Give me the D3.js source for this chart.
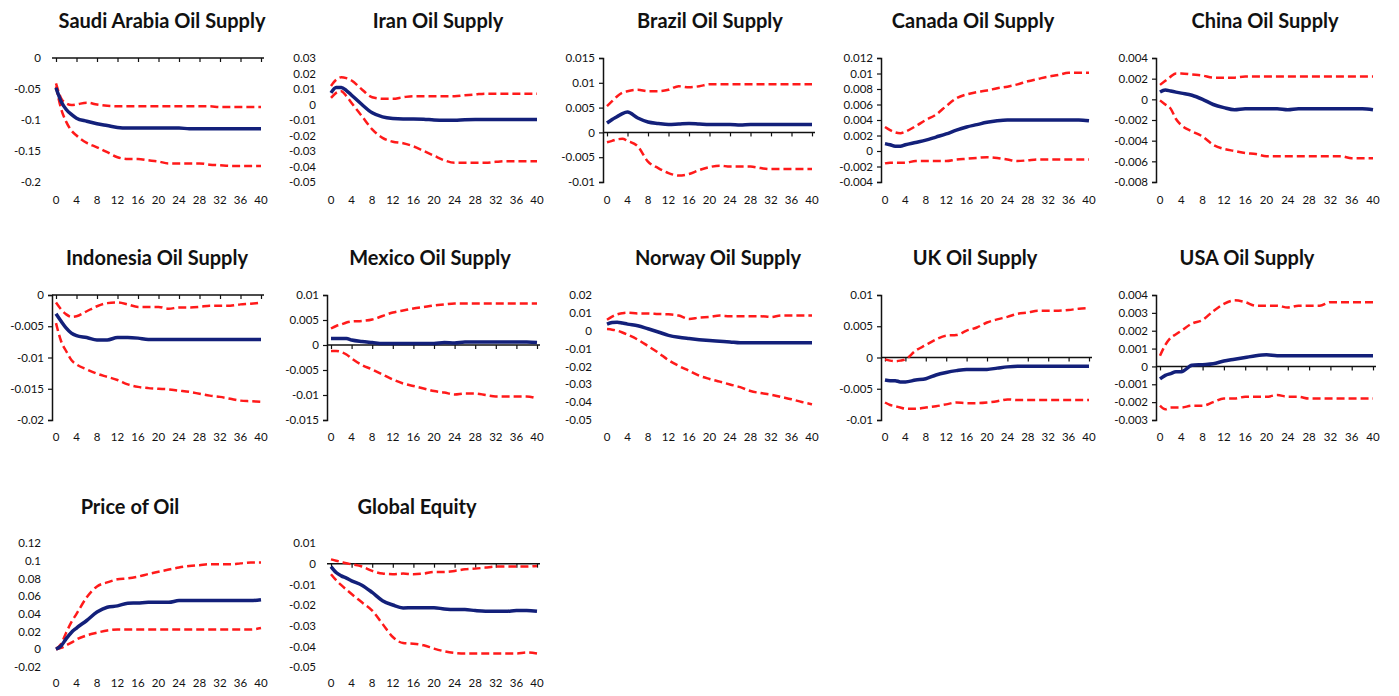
<!DOCTYPE html>
<html>
<head>
<meta charset="utf-8">
<script src="https://cdn.jsdelivr.net/npm/d3@7"></script>
<style>
body { margin: 0; background: #fff; }
svg { font-family: Lato, "Open Sans", sans-serif; }
</style>
</head>
<body>
<script>
"use strict";

let horizons = [0,1,2,3,4,6,8,10,12,14,16,18,20,22,24,26,28,30,32,34,36,38,40];

let saudiMid = [-0.048,-0.07,-0.083,-0.091,-0.097,-0.102,-0.106,-0.109,-0.112,-0.113,-0.113,-0.113,-0.113,-0.113,-0.113,-0.114,-0.114,-0.114,-0.114,-0.114,-0.114,-0.114,-0.114];
let saudiUp = [-0.041,-0.065,-0.073,-0.076,-0.075,-0.072,-0.075,-0.077,-0.078,-0.078,-0.078,-0.078,-0.078,-0.078,-0.078,-0.078,-0.078,-0.078,-0.079,-0.079,-0.079,-0.079,-0.079];
let saudiLo = [-0.046,-0.082,-0.103,-0.117,-0.125,-0.137,-0.144,-0.152,-0.16,-0.163,-0.163,-0.165,-0.167,-0.17,-0.17,-0.17,-0.17,-0.172,-0.173,-0.174,-0.174,-0.174,-0.174];

let iranMid = [0.0075,0.011,0.011,0.009,0.006,0,-0.0054,-0.008,-0.009,-0.0093,-0.0093,-0.0095,-0.01,-0.0102,-0.0102,-0.0098,-0.0097,-0.0097,-0.0097,-0.0097,-0.0097,-0.0097,-0.0097];
let iranUp = [0.012,0.016,0.0176,0.017,0.0155,0.0097,0.0047,0.0037,0.0037,0.0047,0.0054,0.0054,0.0054,0.0054,0.0054,0.006,0.0065,0.007,0.007,0.007,0.007,0.007,0.007];
let iranLo = [0.0043,0.0075,0.0086,0.0054,0.001,-0.0075,-0.016,-0.0215,-0.024,-0.025,-0.027,-0.03,-0.033,-0.036,-0.0376,-0.0376,-0.0376,-0.0376,-0.037,-0.0366,-0.0366,-0.0366,-0.0366];

let brazilMid = [0.0019,0.0026,0.0032,0.0038,0.0041,0.0029,0.0021,0.0018,0.0016,0.0017,0.0018,0.0017,0.0016,0.0016,0.0016,0.0015,0.0016,0.0016,0.0016,0.0016,0.0016,0.0016,0.0016];
let brazilUp = [0.0053,0.0063,0.0073,0.008,0.0083,0.0086,0.0083,0.0083,0.0086,0.0093,0.0091,0.0093,0.0097,0.0097,0.0097,0.0097,0.0097,0.0097,0.0097,0.0097,0.0097,0.0097,0.0097];
let brazilLo = [-0.002,-0.0017,-0.0014,-0.0013,-0.0017,-0.0028,-0.0059,-0.0072,-0.0082,-0.0087,-0.0084,-0.0076,-0.007,-0.0067,-0.0069,-0.0069,-0.0069,-0.0072,-0.0074,-0.0074,-0.0074,-0.0074,-0.0074];

let canadaMid = [0.00095,0.0008,0.0006,0.0006,0.0008,0.0011,0.0014,0.0018,0.0022,0.0027,0.0031,0.0034,0.0037,0.0039,0.004,0.004,0.004,0.004,0.004,0.004,0.004,0.004,0.0039];
let canadaUp = [0.0031,0.0027,0.0024,0.0023,0.0025,0.0032,0.004,0.0047,0.0058,0.0068,0.0073,0.0076,0.0078,0.0081,0.0083,0.0086,0.009,0.0093,0.0096,0.0098,0.0101,0.0101,0.0101];
let canadaLo = [-0.0016,-0.0015,-0.0015,-0.0015,-0.0015,-0.0013,-0.0013,-0.0013,-0.0013,-0.0011,-0.001,-0.0009,-0.0008,-0.0009,-0.0011,-0.0013,-0.0012,-0.0011,-0.0011,-0.0011,-0.0011,-0.0011,-0.0011];

let chinaMid = [0.0007,0.0009,0.0008,0.0007,0.0006,0.0004,0,-0.0005,-0.0008,-0.001,-0.0009,-0.0009,-0.0009,-0.0009,-0.001,-0.0009,-0.0009,-0.0009,-0.0009,-0.0009,-0.0009,-0.0009,-0.001];
let chinaUp = [0.0014,0.0018,0.0022,0.0025,0.0025,0.0024,0.0023,0.0021,0.0021,0.0021,0.0022,0.0022,0.0022,0.0022,0.0022,0.0022,0.0022,0.0022,0.0022,0.0022,0.0022,0.0022,0.0022];
let chinaLo = [-0.0001,-0.0005,-0.0009,-0.0019,-0.0025,-0.0031,-0.0036,-0.0044,-0.0048,-0.005,-0.0052,-0.0053,-0.0055,-0.0055,-0.0055,-0.0055,-0.0055,-0.0055,-0.0055,-0.0055,-0.0057,-0.0057,-0.0057];

let indonesiaMid = [-0.003,-0.0042,-0.0053,-0.0061,-0.0065,-0.0068,-0.0072,-0.0072,-0.0068,-0.0068,-0.0069,-0.0071,-0.0071,-0.0071,-0.0071,-0.0071,-0.0071,-0.0071,-0.0071,-0.0071,-0.0071,-0.0071,-0.0071];
let indonesiaUp = [-0.0012,-0.0023,-0.0031,-0.0035,-0.0034,-0.0026,-0.0018,-0.0013,-0.0012,-0.0015,-0.0019,-0.0019,-0.0019,-0.0022,-0.002,-0.002,-0.0019,-0.0017,-0.0017,-0.0017,-0.0015,-0.0014,-0.0012];
let indonesiaLo = [-0.0045,-0.0074,-0.009,-0.0104,-0.0111,-0.0119,-0.0126,-0.0131,-0.0136,-0.0143,-0.0147,-0.0149,-0.015,-0.0151,-0.0153,-0.0155,-0.0158,-0.0161,-0.0163,-0.0166,-0.0169,-0.017,-0.0171];

let mexicoMid = [0.0013,0.0013,0.0013,0.0013,0.001,0.0007,0.0005,0.0003,0.0003,0.0003,0.0003,0.0003,0.0003,0.0005,0.0004,0.0006,0.0006,0.0006,0.0006,0.0006,0.0006,0.0006,0.0005];
let mexicoUp = [0.0033,0.0038,0.0041,0.0045,0.0047,0.0048,0.0051,0.0058,0.0065,0.0069,0.0073,0.0076,0.0079,0.0081,0.0083,0.0083,0.0083,0.0083,0.0083,0.0083,0.0083,0.0083,0.0083];
let mexicoLo = [-0.0012,-0.0012,-0.0014,-0.0019,-0.0027,-0.004,-0.0049,-0.0059,-0.0069,-0.0077,-0.0082,-0.0087,-0.0092,-0.0095,-0.0099,-0.0097,-0.0097,-0.01,-0.0103,-0.0103,-0.0103,-0.0103,-0.0107];

let norwayMid = [0.0037,0.0046,0.0048,0.0043,0.0037,0.0028,0.0011,-0.0007,-0.0026,-0.0037,-0.0044,-0.005,-0.0055,-0.0059,-0.0063,-0.0068,-0.0068,-0.0068,-0.0068,-0.0068,-0.0068,-0.0068,-0.0068];
let norwayUp = [0.0061,0.0079,0.0092,0.0098,0.0101,0.0097,0.0097,0.0094,0.0092,0.0085,0.0066,0.0074,0.0077,0.0085,0.0081,0.0081,0.0081,0.0081,0.0077,0.0085,0.0085,0.0085,0.0085];
let norwayLo = [0.0009,0.0006,0,-0.001,-0.0022,-0.005,-0.0086,-0.0123,-0.0165,-0.0197,-0.0224,-0.0252,-0.027,-0.0285,-0.0301,-0.0316,-0.0338,-0.0349,-0.0358,-0.0371,-0.0384,-0.0399,-0.0412];

let ukMid = [-0.0036,-0.0037,-0.0037,-0.0039,-0.0039,-0.0036,-0.0034,-0.0028,-0.0024,-0.0021,-0.0019,-0.0019,-0.0019,-0.0017,-0.0015,-0.0014,-0.0014,-0.0014,-0.0014,-0.0014,-0.0014,-0.0014,-0.0014];
let ukUp = [-0.0003,-0.0005,-0.0006,-0.0005,-0.0003,0.0011,0.002,0.0029,0.0035,0.0036,0.0043,0.0048,0.0056,0.0061,0.0065,0.007,0.0072,0.0075,0.0075,0.0075,0.0076,0.0078,0.0079];
let ukLo = [-0.0072,-0.0076,-0.0078,-0.008,-0.0082,-0.0082,-0.008,-0.0078,-0.0075,-0.0072,-0.0073,-0.0073,-0.0072,-0.007,-0.0067,-0.0068,-0.0068,-0.0068,-0.0068,-0.0068,-0.0068,-0.0068,-0.0068];

let usaMid = [-0.0007,-0.0005,-0.0004,-0.0003,-0.0003,0.00006,0.0001,0.00015,0.0003,0.0004,0.0005,0.0006,0.00065,0.0006,0.0006,0.0006,0.0006,0.0006,0.0006,0.0006,0.0006,0.0006,0.0006];
let usaUp = [0.0006,0.0012,0.0016,0.0018,0.002,0.0024,0.0026,0.0031,0.0035,0.0037,0.0036,0.0034,0.0034,0.0034,0.0033,0.0034,0.0034,0.0034,0.0036,0.0036,0.0036,0.0036,0.0036];
let usaLo = [-0.0022,-0.0024,-0.0023,-0.0023,-0.0023,-0.0022,-0.0022,-0.002,-0.0018,-0.0018,-0.0017,-0.0017,-0.0017,-0.0016,-0.0017,-0.0017,-0.0018,-0.0018,-0.0018,-0.0018,-0.0018,-0.0018,-0.0018];

let oilMid = [0,0.004,0.012,0.019,0.024,0.0325,0.042,0.0475,0.049,0.052,0.0523,0.053,0.053,0.053,0.055,0.055,0.055,0.055,0.055,0.055,0.055,0.055,0.056];
let oilUp = [0.0007,0.006,0.019,0.0307,0.04,0.0587,0.071,0.0755,0.079,0.08,0.082,0.085,0.0875,0.09,0.0923,0.094,0.095,0.096,0.096,0.096,0.097,0.098,0.098];
let oilLo = [0,0.0015,0.0045,0.0075,0.011,0.0157,0.0187,0.0213,0.0224,0.0224,0.0224,0.0224,0.0224,0.0224,0.0224,0.0224,0.0224,0.0224,0.0224,0.0224,0.0224,0.0224,0.024];

let equityMid = [-0.0014,-0.0043,-0.0059,-0.007,-0.0083,-0.0104,-0.0139,-0.0179,-0.02,-0.0214,-0.0213,-0.0213,-0.0213,-0.0219,-0.0222,-0.0222,-0.0227,-0.023,-0.023,-0.023,-0.0227,-0.0227,-0.023];
let equityUp = [0.0021,0.0014,0.0008,0.0002,-0.0003,-0.0014,-0.0035,-0.0048,-0.0051,-0.0048,-0.0051,-0.0048,-0.004,-0.004,-0.0035,-0.0027,-0.0024,-0.0019,-0.0014,-0.0014,-0.0014,-0.0014,-0.0011];
let equityLo = [-0.0051,-0.008,-0.0104,-0.0126,-0.0147,-0.0187,-0.0227,-0.0291,-0.0355,-0.0384,-0.0387,-0.0395,-0.0411,-0.0424,-0.0432,-0.0435,-0.0435,-0.0435,-0.0435,-0.0435,-0.0435,-0.043,-0.0435];

// y-axis tick labels of every panel
let saudiTicks = [0,-0.05,-0.1,-0.15,-0.2];
let iranTicks = [0.03,0.02,0.01,0,-0.01,-0.02,-0.03,-0.04,-0.05];
let brazilTicks = [0.015,0.01,0.005,0,-0.005,-0.01];
let canadaTicks = [0.012,0.01,0.008,0.006,0.004,0.002,0,-0.002,-0.004];
let chinaTicks = [0.004,0.002,0,-0.002,-0.004,-0.006,-0.008];
let indonesiaTicks = [0,-0.005,-0.01,-0.015,-0.02];
let mexicoTicks = [0.01,0.005,0,-0.005,-0.01,-0.015];
let norwayTicks = [0.02,0.01,0,-0.01,-0.02,-0.03,-0.04,-0.05];
let ukTicks = [0.01,0.005,0,-0.005,-0.01];
let usaTicks = [0.004,0.003,0.002,0.001,0,-0.001,-0.002,-0.003];
let oilTicks = [0.12,0.1,0.08,0.06,0.04,0.02,0,-0.02];
let equityTicks = [0.01,0,-0.01,-0.02,-0.03,-0.04,-0.05];

let xTicks = [0,4,8,12,16,20,24,28,32,36,40];

let titles = ['Saudi Arabia Oil Supply','Iran Oil Supply','Brazil Oil Supply','Canada Oil Supply','China Oil Supply',
    'Indonesia Oil Supply','Mexico Oil Supply','Norway Oil Supply','UK Oil Supply','USA Oil Supply',
    'Price of Oil','Global Equity'];

let panels = [
    {mid: saudiMid, up: saudiUp, lo: saudiLo, ticks: saudiTicks},
    {mid: iranMid, up: iranUp, lo: iranLo, ticks: iranTicks},
    {mid: brazilMid, up: brazilUp, lo: brazilLo, ticks: brazilTicks},
    {mid: canadaMid, up: canadaUp, lo: canadaLo, ticks: canadaTicks},
    {mid: chinaMid, up: chinaUp, lo: chinaLo, ticks: chinaTicks},
    {mid: indonesiaMid, up: indonesiaUp, lo: indonesiaLo, ticks: indonesiaTicks},
    {mid: mexicoMid, up: mexicoUp, lo: mexicoLo, ticks: mexicoTicks},
    {mid: norwayMid, up: norwayUp, lo: norwayLo, ticks: norwayTicks},
    {mid: ukMid, up: ukUp, lo: ukLo, ticks: ukTicks},
    {mid: usaMid, up: usaUp, lo: usaLo, ticks: usaTicks},
    {mid: oilMid, up: oilUp, lo: oilLo, ticks: oilTicks},
    {mid: equityMid, up: equityUp, lo: equityLo, ticks: equityTicks}
];
panels.forEach(function(p, i) { p.title = titles[i]; });

// layout of the grid (pixel positions, kept apart from the data)
let colX = [56, 331, 607, 885, 1160];
let colW = [205, 206, 205, 204, 213];
let rowTop = [58, 295, 543];
let rowBot = [182, 420, 667];
let rowTitle = [28, 265, 514];
let rowXLabel = [204, 441, 687];
let titleX = [162, 438, 710, 973, 1265, 157, 430, 718, 975, 1247, 130, 417];
// which axis lines are visible in each panel of the source picture
let showY = [false,false,true,true,true, true,true,false,true,true, false,false];
let showX = [true,false,true,false,false, true,true,false,true,true, false,true];

(function() {

let svg = d3.select('body')
    .append('svg')
    .attr('width', 1399)
    .attr('height', 696);

let fmt = function(v) { return String(+v.toFixed(4)); };

panels.forEach(function(p, i) {
    let row = Math.floor(i / 5);
    let col = i % 5;
    let x0 = colX[col];

    let x = d3.scaleLinear().domain([0, 40]).range([x0, x0 + colW[col]]);
    let y = d3.scaleLinear()
        .domain([d3.min(p.ticks), d3.max(p.ticks)])
        .range([rowBot[row], rowTop[row]]);

    let g = svg.append('g').attr('class', 'panel');

    g.append('text')
        .attr('x', titleX[i])
        .attr('y', rowTitle[row])
        .attr('text-anchor', 'middle')
        .attr('font-size', 20)
        .attr('font-weight', 700)
        .attr('fill', '#111')
        .text(p.title);

    let axisX = showY[i] ? x0 - 4 : x0 - 11;

    // y axis
    let yAxis = g.append('g')
        .attr('transform', 'translate(' + axisX + ',0)')
        .call(d3.axisLeft(y).tickValues(p.ticks).tickFormat(fmt).tickSize(showY[i] ? 4 : 0).tickPadding(4));
    yAxis.select('.domain').attr('stroke', showY[i] ? '#111' : 'none').attr('stroke-width', 1.5);
    yAxis.selectAll('.tick line').attr('stroke', '#111').attr('stroke-width', 1.2);
    yAxis.selectAll('.tick text')
        .attr('font-size', 11.5)
        .attr('fill', '#111')
        .attr('font-family', 'Lato, sans-serif');

    // x axis line at zero with tick marks
    if (showX[i]) {
        let xAxis = g.append('g')
            .attr('transform', 'translate(0,' + y(0) + ')')
            .call(d3.axisBottom(x).tickValues(xTicks).tickFormat('').tickSizeInner(4).tickSizeOuter(0));
        xAxis.select('.domain').attr('d', 'M' + (x0 - 4) + ',0H' + (x0 + colW[col] + 3))
            .attr('stroke', '#111').attr('stroke-width', 1.5);
        xAxis.selectAll('.tick line').attr('stroke', '#111').attr('stroke-width', 1.2);
    }

    // x labels under the plot
    g.selectAll('.xlab')
        .data(xTicks)
        .enter()
        .append('text')
        .attr('class', 'xlab')
        .attr('x', function(d) { return x(d); })
        .attr('y', rowXLabel[row])
        .attr('text-anchor', 'middle')
        .attr('font-size', 11.5)
        .attr('fill', '#111')
        .text(function(d) { return d; });

    let line = function(vals) {
        return d3.line()
            .x(function(d, k) { return x(horizons[k]); })
            .y(function(d) { return y(d); })
            .curve(d3.curveMonotoneX)(vals);
    };

    g.append('path')
        .attr('d', line(p.up))
        .attr('fill', 'none')
        .attr('stroke', '#ff1a1a')
        .attr('stroke-width', 2.5)
        .attr('stroke-dasharray', '8,4');

    g.append('path')
        .attr('d', line(p.lo))
        .attr('fill', 'none')
        .attr('stroke', '#ff1a1a')
        .attr('stroke-width', 2.5)
        .attr('stroke-dasharray', '8,4');

    g.append('path')
        .attr('d', line(p.mid))
        .attr('fill', 'none')
        .attr('stroke', '#13207a')
        .attr('stroke-width', 3.5)
        .attr('stroke-linejoin', 'round');
});

})();
</script>
</body>
</html>
